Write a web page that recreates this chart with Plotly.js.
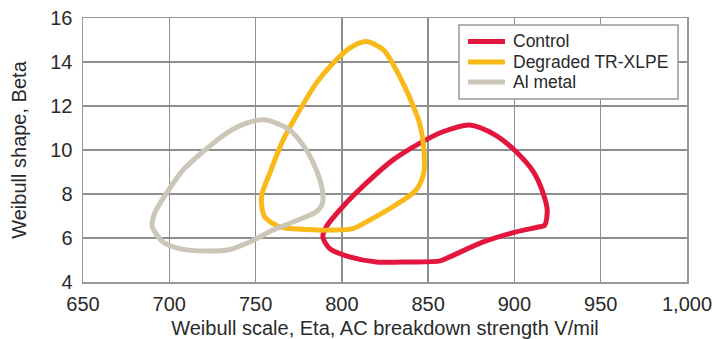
<!DOCTYPE html>
<html>
<head>
<meta charset="utf-8">
<script src="https://cdn.plot.ly/plotly-3.0.1.min.js"></script>
<style>
  html, body { margin: 0; padding: 0; background: #ffffff; }
  #chart { width: 713px; height: 339px; }
</style>
</head>
<body>
<div id="chart"></div>
<script>
// Weibull parameter confidence contours (scale Eta vs shape Beta)
const seriesNames = ['Control', 'Degraded TR-XLPE', 'Al metal'];
const seriesColors = ['#e3173e', '#f8b919', '#cbc6b8'];

const controlEta = [874, 889, 901, 911, 916, 919, 917.5, 914.5, 901, 882, 862.5, 857, 839, 820, 804.5, 793, 789, 791, 800.5, 814, 829.5, 845, 858.5, 874];
const controlBeta = [11.14, 10.68, 9.92, 9.01, 8.18, 7.27, 6.58, 6.51, 6.28, 5.82, 5.14, 4.96, 4.91, 4.91, 5.14, 5.52, 6.05, 6.51, 7.42, 8.48, 9.54, 10.3, 10.83, 11.14];

const degradedEta = [814, 824, 831.5, 839, 845, 847.4, 847.4, 843, 829.5, 816, 806.5, 795, 779.5, 764, 755.3, 753.4, 758.2, 766, 775.6, 785.2, 795, 804.5, 814];
const degradedBeta = [14.93, 14.56, 13.64, 12.43, 11.22, 10.15, 8.94, 8.18, 7.42, 6.81, 6.43, 6.36, 6.39, 6.51, 6.96, 7.87, 8.94, 10.46, 11.82, 13.04, 13.95, 14.63, 14.93];

const alEta = [755.3, 769.8, 779.4, 785.2, 788.7, 788.7, 785.2, 771.7, 760.1, 746.6, 735, 721.5, 706, 696.4, 690.2, 691.5, 698.3, 708, 719.5, 733.1, 744.7, 755.3];
const alBeta = [11.37, 10.91, 10.0, 9.09, 8.18, 7.57, 7.19, 6.73, 6.36, 5.82, 5.48, 5.41, 5.52, 5.82, 6.51, 7.12, 8.03, 9.09, 9.92, 10.76, 11.22, 11.37];

const xTicks = [650, 700, 750, 800, 850, 900, 950, 1000];
const yTicks = [4, 6, 8, 10, 12, 14, 16];

const xs = [controlEta, degradedEta, alEta];
const ys = [controlBeta, degradedBeta, alBeta];

const font = 'Liberation Sans, Arial, sans-serif';
const textColor = '#2a2a2a';

const W = 713, H = 339;
const M = { l: 83, r: 26, t: 18, b: 57 };
const plotW = W - M.l - M.r, plotH = H - M.t - M.b;
// pixel position -> paper fraction
const px = v => (v - M.l) / plotW;
const py = v => (H - M.b - v) / plotH;

const traces = seriesNames.map((name, i) => ({
  type: 'scatter',
  mode: 'lines',
  name: name,
  x: xs[i],
  y: ys[i],
  line: { color: seriesColors[i], width: 5, shape: 'spline', smoothing: 0.8 },
  showlegend: false,
  hoverinfo: 'x+y+name'
}));

// compact legend box: framed panel with a line swatch and label per series
const legendBox = { x0: 459, x1: 678, y0: 25, y1: 99 };
const rowY = [41.5, 62, 82];
const shapes = [{
  type: 'rect', xref: 'paper', yref: 'paper', layer: 'above',
  x0: px(legendBox.x0), x1: px(legendBox.x1), y0: py(legendBox.y1), y1: py(legendBox.y0),
  fillcolor: '#ffffff', line: { color: '#999999', width: 1.5 }
}];
const annotations = [];
seriesNames.forEach((name, i) => {
  shapes.push({
    type: 'line', xref: 'paper', yref: 'paper', layer: 'above',
    x0: px(468), x1: px(505), y0: py(rowY[i]), y1: py(rowY[i]),
    line: { color: seriesColors[i], width: 5 }
  });
  annotations.push({
    xref: 'paper', yref: 'paper', x: px(511), y: py(rowY[i]),
    xanchor: 'left', yanchor: 'middle', showarrow: false,
    text: name, font: { family: font, size: 17.5, color: textColor }
  });
});

const axisCommon = {
  showgrid: true,
  gridcolor: '#8e8e8e',
  gridwidth: 1.5,
  showline: true,
  linecolor: '#999999',
  linewidth: 1.5,
  mirror: true,
  zeroline: false,
  ticks: '',
  tickfont: { family: font, size: 20, color: textColor }
};

const layout = {
  width: W,
  height: H,
  margin: M,
  paper_bgcolor: '#ffffff',
  plot_bgcolor: '#ffffff',
  font: { family: font, color: textColor },
  separators: '.,',
  showlegend: false,
  xaxis: Object.assign({}, axisCommon, {
    range: [650, 1000],
    tickvals: xTicks,
    tickformat: ',d',
    ticklabelstandoff: 3,
    title: { text: 'Weibull scale, Eta, AC breakdown strength V/mil', font: { family: font, size: 20, color: textColor }, standoff: 8 }
  }),
  yaxis: Object.assign({}, axisCommon, {
    range: [4, 16],
    tickvals: yTicks,
    ticklabelstandoff: 5,
    title: { text: 'Weibull shape, Beta', font: { family: font, size: 20, color: textColor }, standoff: 18 }
  }),
  shapes: shapes,
  annotations: annotations
};

Plotly.newPlot('chart', traces, layout, { displayModeBar: false, staticPlot: true });
</script>
</body>
</html>
